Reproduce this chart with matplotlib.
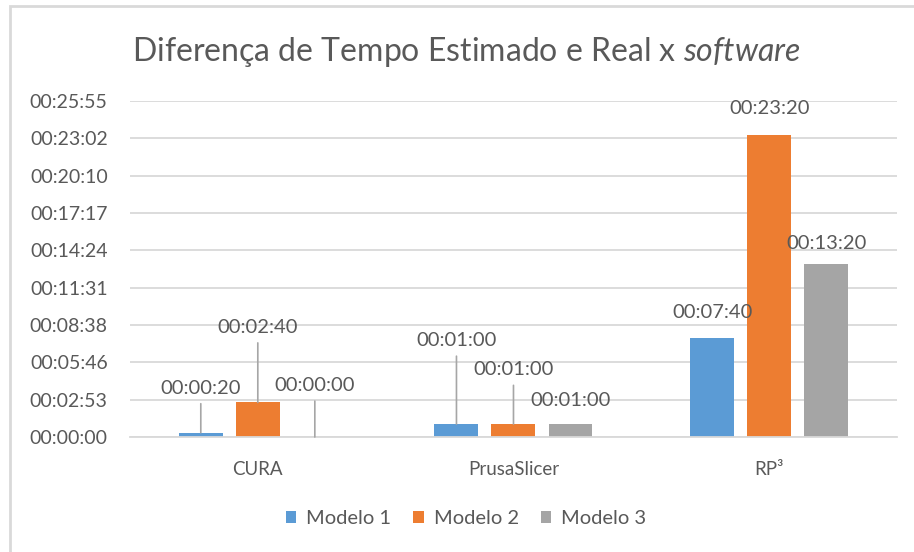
"""Diferença de tempo estimado e real por software (barras agrupadas)"""

import numpy as np
import matplotlib
matplotlib.use('Agg')
import matplotlib.pyplot as plt
from matplotlib.ticker import MultipleLocator, FuncFormatter
from matplotlib.patches import Rectangle

## dados (segundos)
softwares = ['CURA', 'PrusaSlicer', 'RP³']
modelos = ['Modelo 1', 'Modelo 2', 'Modelo 3']
modelo1 = [20, 60, 460]
modelo2 = [160, 60, 1400]
modelo3 = [0, 60, 800]
cores = ['#5B9BD5', '#ED7D31', '#A5A5A5']

# deslocamento dos rótulos acima da barra (pontos), por modelo - como ficou no Excel
desloc = [[32, 60, 18], [54, 39, 19], [37, 17, 15]]

cinza = '#595959'
plt.rcParams['font.family'] = ['Lato', 'DejaVu Sans']
plt.rcParams['mathtext.fontset'] = 'custom'
plt.rcParams['mathtext.rm'] = 'Lato'
plt.rcParams['mathtext.it'] = 'Lato:italic'


def hms(s, pos=None):
    s = int(round(s))
    return '%02d:%02d:%02d' % (s // 3600, (s % 3600) // 60, s % 60)


fig = plt.figure(figsize=(9.14, 5.52), dpi=100)
ax = fig.add_axes([0.1422, 0.2083, 0.8392, 0.6087])

x = np.arange(len(softwares))
larg = 0.172
passo = 0.223
series = [modelo1, modelo2, modelo3]
for k, (nome, vals) in enumerate(zip(modelos, series)):
    xs = x + (k - 1) * passo
    ax.bar(xs, vals, larg, color=cores[k], label=nome, zorder=2)
    for i in range(len(softwares)):
        dy = desloc[k][i]
        arrow = None
        if dy > 25:
            arrow = dict(arrowstyle='-', color='#A6A6A6', lw=1.2, shrinkA=3, shrinkB=0)
        ax.annotate(hms(vals[i]), xy=(xs[i], vals[i]), xytext=(0, dy),
                    textcoords='offset points', ha='center', va='center',
                    fontsize=14.5, color=cinza, arrowprops=arrow, zorder=3)

ax.set_xlim(-0.5, 2.5)
ax.set_ylim(0, 1555.2)
ax.yaxis.set_major_locator(MultipleLocator(172.8))
ax.yaxis.set_major_formatter(FuncFormatter(hms))
ax.set_xticks(x)
ax.set_xticklabels(softwares)
ax.grid(axis='y', color='#D9D9D9', lw=1.3, zorder=0)
ax.tick_params(axis='both', length=0, colors=cinza, labelsize=14)
ax.tick_params(axis='y', pad=16)
ax.tick_params(axis='x', pad=17, labelsize=13.5)
for sp in ['left', 'right', 'top']:
    ax.spines[sp].set_visible(False)
ax.spines['bottom'].set_color('#D9D9D9')
ax.spines['bottom'].set_linewidth(1.3)

fig.text(0.51, 0.906, 'Diferença de Tempo Estimado e Real x $\\it{software}$',
         ha='center', va='center', fontsize=23, color=cinza)

leg = fig.legend(loc='center', bbox_to_anchor=(0.51, 0.06), ncol=3, frameon=False,
                 fontsize=14.5, handlelength=0.5, handleheight=0.5, handletextpad=0.5,
                 columnspacing=1.1)
for t in leg.get_texts():
    t.set_color(cinza)

# moldura do gráfico
fig.patches.append(Rectangle((10 / 914, -0.1), 1.2, 1.1 - 6 / 552, transform=fig.transFigure,
                             fill=False, edgecolor='#D9D9D9', lw=2))

fig.savefig('out.png', dpi=100)
